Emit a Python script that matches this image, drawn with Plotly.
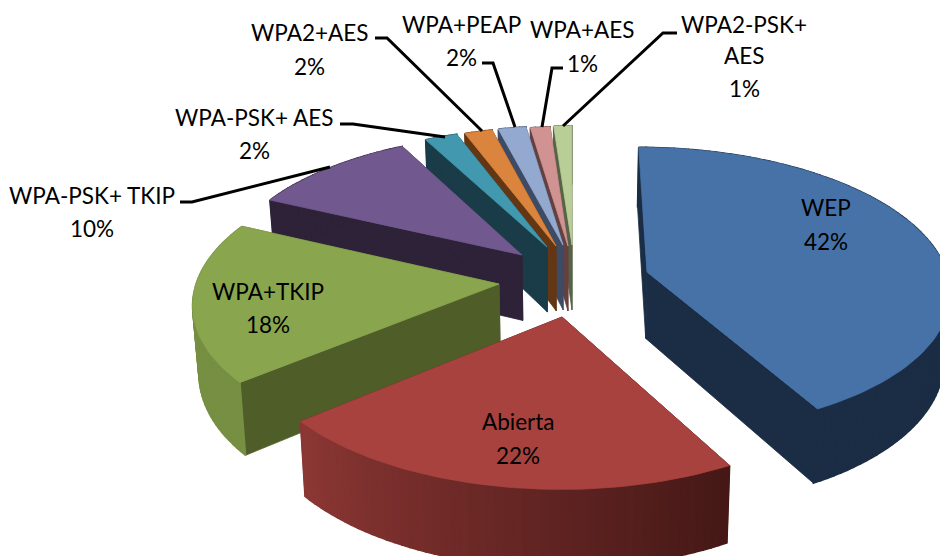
import math
import plotly.graph_objects as go

labels = ["WEP", "Abierta", "WPA+TKIP", "WPA-PSK+ TKIP", "WPA-PSK+ AES", "WPA2+AES", "WPA+PEAP", "WPA+AES", "WPA2-PSK+ AES"]
values = [42, 22, 18, 10.3, 2, 1.7, 1.7, 1.2, 1.1]
top_colors = ["#4672A8", "#A8423F", "#89A54E", "#71588F", "#4198AF", "#DB843D", "#93A9CF", "#D19392", "#B9CD96"]
wall_colors = ["#1B2D44", "#46191A", "#4F5D28", "#2E2238", "#193C48", "#643714", "#3E4B64", "#644141", "#556446"]
rim_near = ["#1B2D44", "#8C3734", "#768F42", "#2E2238", "#193C48", "#643714", "#3E4B64", "#644141", "#556446"]
rim_far = ["#1B2D44", "#441816", "#768F42", "#2E2238", "#193C48", "#643714", "#3E4B64", "#644141", "#556446"]

# view settings of the tilted pie
CX, CY, A, B, K, D, SHRINK = 570, 265, 298, 138, 0.12, 66, 0.017
tips = [(647, 272), (562, 317), (499, 284), (522, 255), (547, 247), (556, 246), (563, 245), (568, 246), (572, 245)]
draw_order = [8, 7, 6, 5, 4, 3, 0, 2, 1]
text_pos = {
    0: [(826, 207), (826, 241)], 1: [(518, 421), (518, 455)], 2: [(268, 291), (268, 324)],
    3: [(92, 195), (92, 228)], 4: [(254, 117), (254, 150)], 5: [(309, 32), (309, 66)],
    6: [(461, 24), (461, 57)], 7: [(582, 29), (582, 63)], 8: [(744, 24), (744, 55), (744, 88)],
}
leaders = [
    [(180, 202), (192, 202), (330, 167)], [(340, 124), (353, 124), (445, 137)],
    [(375, 38), (387, 38), (482, 131)], [(482, 63), (493, 63), (515, 127)],
    [(542, 127), (552, 68), (563, 68)], [(677, 33), (663, 33), (563, 126)],
]


def proj(X, Y, z=0.0):
    s = 1 / (1 + K * Y)
    f = 1 - SHRINK * z
    return CX + A * X * s * f, CY - B * Y * s + D * s * z


def unproj(sx, sy):
    dy = CY - sy
    Y = dy / (B - K * dy)
    return (sx - CX) * (1 + K * Y) / A, Y


def hex_rgb(h):
    return [int(h[i:i + 2], 16) for i in (1, 3, 5)]


def mix(a, b, t):
    ca, cb = hex_rgb(a), hex_rgb(b)
    return "rgb(%d,%d,%d)" % tuple(round(x + (y - x) * t) for x, y in zip(ca, cb))


def poly(fig, pts, color, lw=0.8):
    xs = [p[0] for p in pts] + [pts[0][0]]
    ys = [p[1] for p in pts] + [pts[0][1]]
    fig.add_trace(go.Scatter(x=xs, y=ys, mode="lines", fill="toself", fillcolor=color,
                             line=dict(color=color, width=lw), hoverinfo="skip", showlegend=False))


fig = go.Figure()
total = sum(values)
starts = [sum(values[:i]) / total * 360 for i in range(len(values))]

for i in draw_order:
    a0 = starts[i]
    a1 = a0 + values[i] / total * 360
    ax, ay = unproj(*tips[i])
    n = max(4, int((a1 - a0) / 1.5))
    thetas = [math.radians(a0 + (a1 - a0) * k / n) for k in range(n + 1)]
    rim = [(ax + math.sin(t), ay + math.cos(t)) for t in thetas]
    # radial walls
    for r in (rim[0], rim[-1]):
        poly(fig, [proj(ax, ay), proj(*r), proj(*r, 1), proj(ax, ay, 1)], wall_colors[i])
    # outer wall, shaded strip by strip
    for k in range(n):
        t = 1 - (k + 0.5) / n
        poly(fig, [proj(*rim[k]), proj(*rim[k + 1]), proj(*rim[k + 1], 1), proj(*rim[k], 1)],
             mix(rim_near[i], rim_far[i], t), 1.6)
    poly(fig, [proj(ax, ay)] + [proj(*r) for r in rim], top_colors[i])

for pts in leaders:
    fig.add_trace(go.Scatter(x=[p[0] for p in pts], y=[p[1] for p in pts], mode="lines",
                             line=dict(color="black", width=3), hoverinfo="skip", showlegend=False))

for i, name in enumerate(labels):
    pos = text_pos[i]
    pct = f"{round(values[i])}%"
    lines = ["WPA2-PSK+", "AES", pct] if len(pos) == 3 else [name, pct]
    for (x, y), line in zip(pos, lines):
        fig.add_annotation(x=x, y=y, text=line, showarrow=False, xanchor="center", yanchor="middle",
                           font=dict(family="Lato", size=22.5, color="black"))

fig.update_layout(
    width=940, height=556, margin=dict(l=0, r=0, t=0, b=0), showlegend=False,
    paper_bgcolor="white", plot_bgcolor="white",
    xaxis=dict(range=[0, 940], visible=False, fixedrange=True),
    yaxis=dict(range=[556, 0], visible=False, fixedrange=True),
)
fig.write_html("out.html", config={"displayModeBar": False},
               post_script="document.body.style.margin='0';document.documentElement.style.overflow='hidden';")
